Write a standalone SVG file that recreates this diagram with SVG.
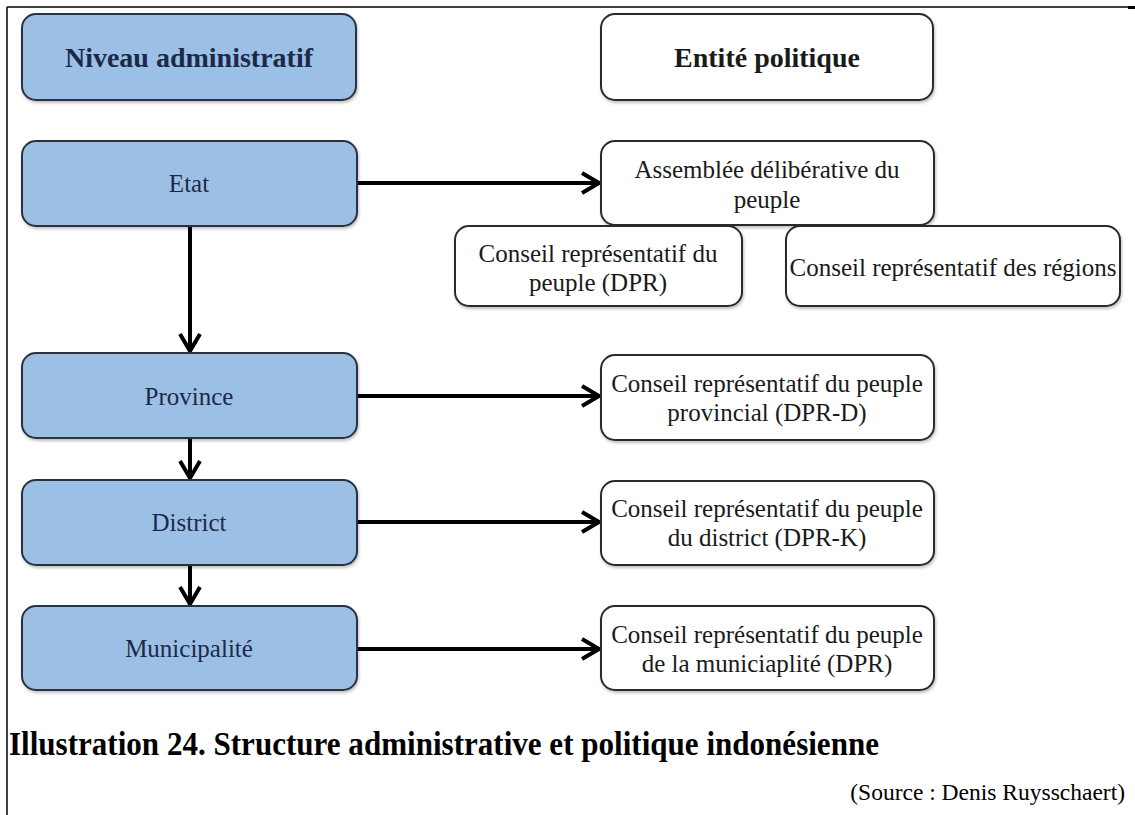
<svg xmlns="http://www.w3.org/2000/svg" width="1135" height="815" viewBox="0 0 1135 815">
<style>
  .blue { fill: #9cc0e5; stroke: #2b3340; stroke-width: 2; }
  .white { fill: #ffffff; stroke: #2b2b2b; stroke-width: 2; }
  .t { font-family: "Liberation Serif", "Times New Roman", serif; font-size: 25px; text-anchor: middle; dominant-baseline: central; }
  .tb { fill: #1b2a48; }
  .tw { fill: #1a1a1a; }
  .h { font-weight: bold; font-size: 28px; }
  .conn { stroke: #000; stroke-width: 4; fill: none; }
  .frame { stroke: #000; stroke-width: 1.5; fill: none; }
  .cap { font-family: "Liberation Serif", "Times New Roman", serif; fill: #000; }
</style>
<defs>
  <filter id="sh" x="-5%" y="-5%" width="112%" height="120%">
    <feDropShadow dx="1" dy="2" stdDeviation="1.5" flood-color="#000" flood-opacity="0.25"/>
  </filter>
  <marker id="ah" markerUnits="userSpaceOnUse" markerWidth="24" markerHeight="26" refX="19" refY="12" orient="auto">
    <path d="M2,2 L19,12 L2,22" stroke="#000" stroke-width="4" fill="none" stroke-linejoin="miter"/>
  </marker>
</defs>
<rect width="1135" height="815" fill="#fff"/>
<g id="frame">
  <line class="frame" x1="7" y1="7" x2="7" y2="815"/>
  <line class="frame" x1="7" y1="7" x2="1128" y2="7"/>
  <rect x="1128" y="6" width="7" height="3" fill="#000"/>
</g>
<g id="connectors">
  <line class="conn" x1="357" y1="183" x2="599" y2="183" marker-end="url(#ah)"/>
  <line class="conn" x1="190" y1="226" x2="190" y2="351" marker-end="url(#ah)"/>
  <line class="conn" x1="357" y1="396" x2="599" y2="396" marker-end="url(#ah)"/>
  <line class="conn" x1="190" y1="438" x2="190" y2="478" marker-end="url(#ah)"/>
  <line class="conn" x1="357" y1="522" x2="599" y2="522" marker-end="url(#ah)"/>
  <line class="conn" x1="190" y1="565" x2="190" y2="604" marker-end="url(#ah)"/>
  <line class="conn" x1="357" y1="649" x2="599" y2="649" marker-end="url(#ah)"/>
</g>
<g id="niveau">
  <rect class="blue" x="22" y="14" width="334" height="86" rx="14" filter="url(#sh)"/>
  <text class="t tb h" x="189" y="57">Niveau administratif</text>
</g>
<g id="entite">
  <rect class="white" x="601" y="14" width="332" height="86" rx="14" filter="url(#sh)"/>
  <text class="t tw h" x="767" y="57">Entité politique</text>
</g>
<g id="etat">
  <rect class="blue" x="22" y="141" width="335" height="85" rx="14" filter="url(#sh)"/>
  <text class="t tb" x="189" y="183">Etat</text>
</g>
<g id="assemblee">
  <rect class="white" x="601" y="141" width="333" height="84" rx="14" filter="url(#sh)"/>
  <text class="t tw" x="767" y="169">Assemblée délibérative du</text>
  <text class="t tw" x="767" y="199">peuple</text>
</g>
<g id="dpr">
  <rect class="white" x="455" y="226" width="287" height="80" rx="14" filter="url(#sh)"/>
  <text class="t tw" x="598" y="253">Conseil représentatif du</text>
  <text class="t tw" x="598" y="282">peuple (DPR)</text>
</g>
<g id="regions">
  <rect class="white" x="786" y="226" width="334" height="80" rx="14" filter="url(#sh)"/>
  <text class="t tw" x="953" y="267">Conseil représentatif des régions</text>
</g>
<g id="province">
  <rect class="blue" x="22" y="353" width="335" height="85" rx="14" filter="url(#sh)"/>
  <text class="t tb" x="189" y="396">Province</text>
</g>
<g id="dprd">
  <rect class="white" x="601" y="355" width="333" height="85" rx="14" filter="url(#sh)"/>
  <text class="t tw" x="767" y="383">Conseil représentatif du peuple</text>
  <text class="t tw" x="767" y="412">provincial (DPR-D)</text>
</g>
<g id="district">
  <rect class="blue" x="22" y="480" width="335" height="85" rx="14" filter="url(#sh)"/>
  <text class="t tb" x="189" y="522">District</text>
</g>
<g id="dprk">
  <rect class="white" x="601" y="481" width="333" height="84" rx="14" filter="url(#sh)"/>
  <text class="t tw" x="767" y="508">Conseil représentatif du peuple</text>
  <text class="t tw" x="767" y="537">du district (DPR-K)</text>
</g>
<g id="municipalite">
  <rect class="blue" x="22" y="606" width="335" height="84" rx="14" filter="url(#sh)"/>
  <text class="t tb" x="189" y="648">Municipalité</text>
</g>
<g id="dprm">
  <rect class="white" x="601" y="606" width="333" height="84" rx="14" filter="url(#sh)"/>
  <text class="t tw" x="767" y="634">Conseil représentatif du peuple</text>
  <text class="t tw" x="767" y="663">de la municiaplité (DPR)</text>
</g>
<g id="caption">
  <text class="cap" x="9" y="755" font-weight="bold" font-size="34" textLength="870" lengthAdjust="spacingAndGlyphs">Illustration 24. Structure administrative et politique indonésienne</text>
  <text class="cap" x="1125" y="800" font-size="23.5" text-anchor="end">(Source : Denis Ruysschaert)</text>
</g>
</svg>
